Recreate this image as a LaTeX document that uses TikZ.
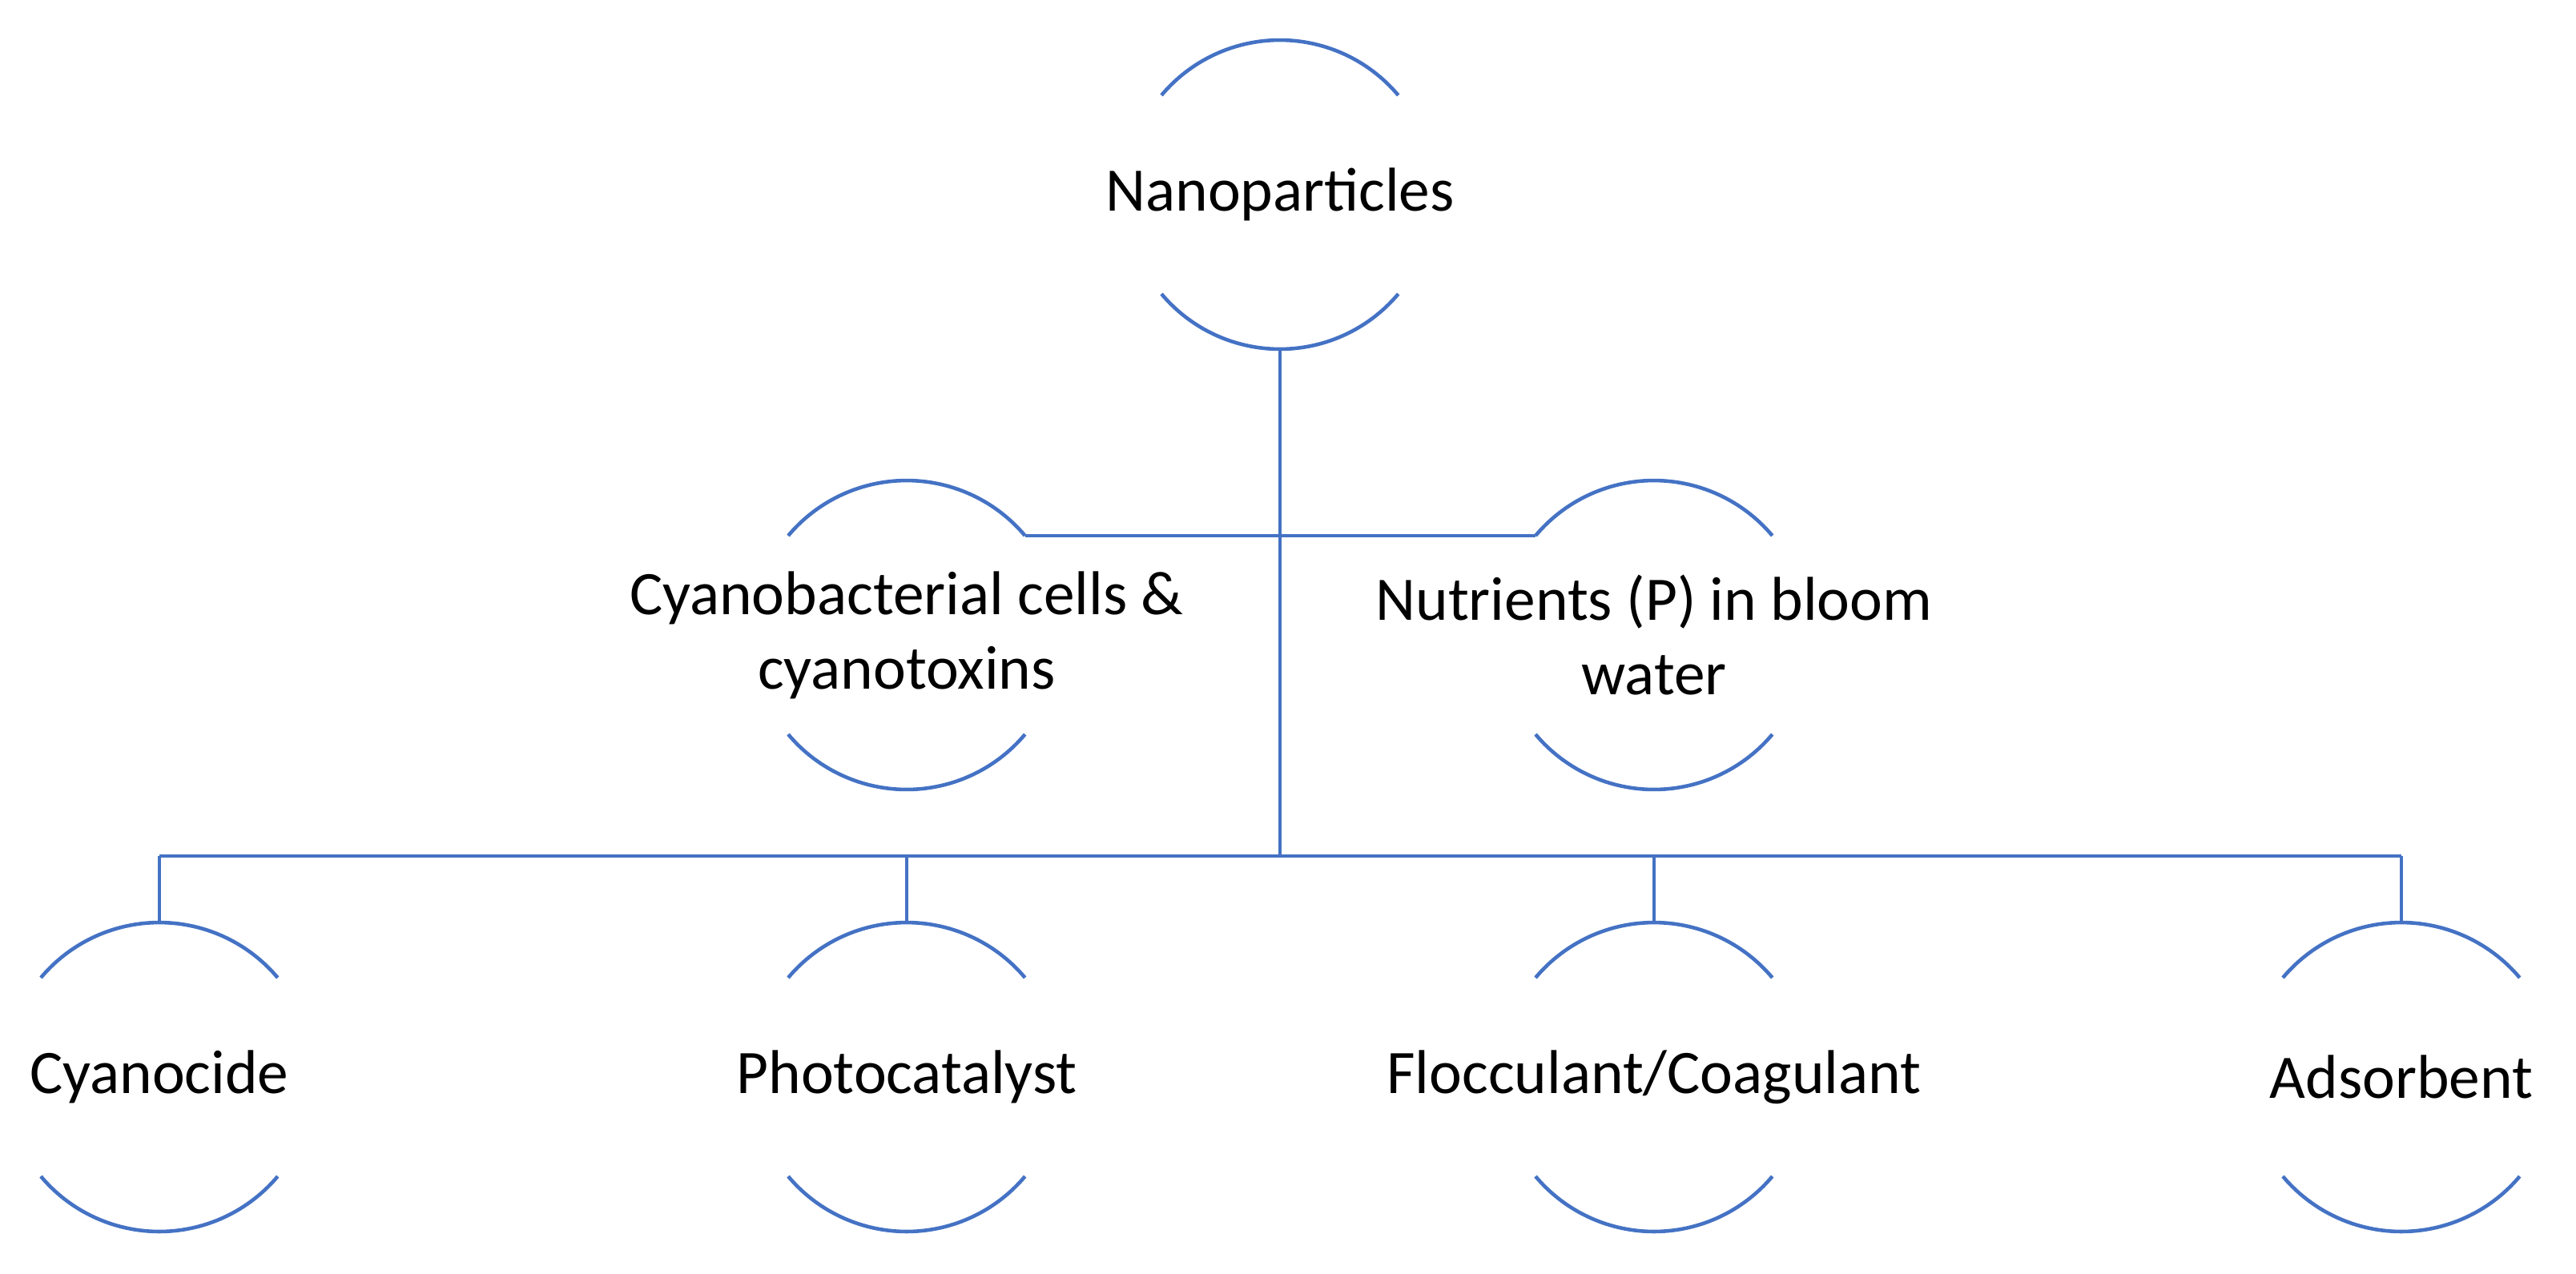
\documentclass[tikz,border=0pt]{standalone}
\usepackage{fontspec}
\setmainfont{Carlito}
\usepackage{xcolor}
\usetikzlibrary{positioning}
\definecolor{arcblue}{HTML}{4472C4}
% arcs above and below a node: name, x half width, y of arc ends, radius, half angle
\newcommand{\arcpair}[5]{%
  \draw[arc] ([shift={(-#2,#3)}]#1.center) arc[start angle=90+#5, end angle=90-#5, radius=#4];
  \draw[arc] ([shift={(-#2,-#3)}]#1.center) arc[start angle=270-#5, end angle=270+#5, radius=#4];
  \coordinate (#1-tl) at ([shift={(-#2,#3)}]#1.center);
  \coordinate (#1-tr) at ([shift={(#2,#3)}]#1.center);
}
\begin{document}
\begin{tikzpicture}[
  arc/.style={draw=arcblue, line width=1.3pt},
  link/.style={draw=arcblue, line width=1.3pt},
  lbl/.style={align=center, inner sep=0pt, font=\fontsize{22}{26.4}\selectfont}]
  \useasboundingbox (0,0) rectangle (32.16,-15.90);
  \node[lbl] (np) at (15.98,-2.43) {Nanoparticles};
  \node[lbl] (cells) at (11.32,-7.93) {Cyanobacterial cells \&\\cyanotoxins};
  \node[lbl] (nutr) at (20.65,-7.93) {Nutrients (P) in bloom\\water};
  \node[lbl] (cyan) at (1.99,-13.45) {Cyanocide};
  \node[lbl] (photo) at (11.32,-13.45) {Photocatalyst};
  \node[lbl] (floc) at (20.65,-13.45) {Flocculant/Coagulant};
  \node[lbl] (ads) at (29.98,-13.45) {Adsorbent};
  \foreach \n in {np,cells,nutr,cyan,photo,floc,ads}
    {\arcpair{\n}{1.48}{1.24}{1.93}{50}}
  \coordinate (np-b) at ([yshift=-1.93cm]np.center);
  \coordinate (bus) at (15.98,-10.69);
  \draw[link] (np-b) -- (bus);
  \draw[link] (cells-tr) -- (nutr-tl);
  \draw[link] (cyan.center |- bus) -- (ads.center |- bus);
  \foreach \n in {cyan,photo,floc,ads}
    {\draw[link] ([yshift=1.93cm]\n.center) -- (\n.center |- bus);}
\end{tikzpicture}
\end{document}
